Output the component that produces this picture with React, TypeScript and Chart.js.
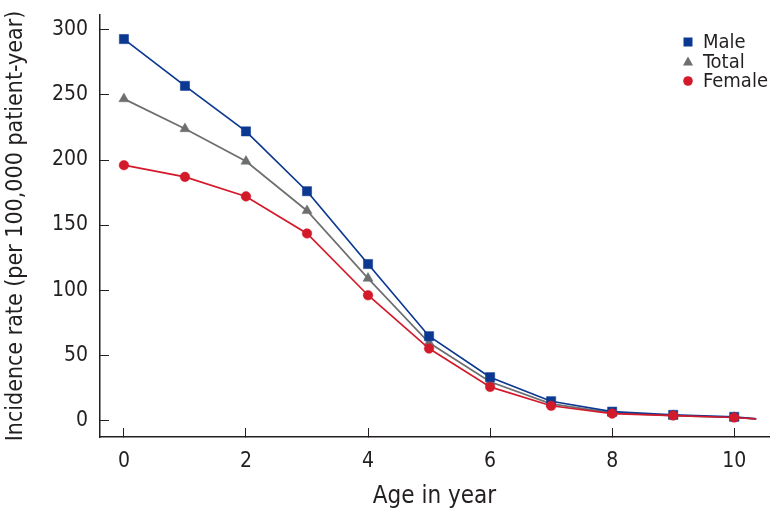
import React, { useEffect, useRef } from "react";
import { Chart, registerables } from "chart.js";

Chart.register(...registerables);

const ages = [0, 1, 2, 3, 4, 5, 6, 7, 8, 9, 10, 10.36];
const male = [293, 257, 222, 176, 120, 64.5, 33, 14.5, 6.5, 4, 2.5, 1];
const total = [247, 224, 199, 161, 109, 59.5, 29.5, 12.5, 5.5, 3.5, 2, 1];
const female = [196, 187, 172, 143.5, 96, 55, 25.5, 11, 5, 3.5, 2, 1];
const xTicks = [0, 2, 4, 6, 8, 10];
const yTicks = [0, 50, 100, 150, 200, 250, 300];

const FONT = "'Liberation Sans Narrow', 'DejaVu Sans Condensed', 'Arial Narrow', sans-serif";
const TEXT = "#231f20";
const BLUE = "#0b3891";
const GREY = "#6d6e70";
const RED = "#d31a2b";

const toPts = (arr: number[]) => arr.map((v, i) => ({ x: ages[i], y: v }));
const radii = (r: number) => ages.map((_, i) => (i < 11 ? r : 0));

const legendItems = [
  { label: "Male", color: BLUE, style: "rect" },
  { label: "Total", color: GREY, style: "triangle" },
  { label: "Female", color: RED, style: "circle" },
];

const legendPlugin = {
  id: "customLegend",
  afterDraw(chart: any) {
    const ctx = chart.ctx;
    ctx.save();
    ctx.font = `20px ${FONT}`;
    ctx.textBaseline = "middle";
    legendItems.forEach((it, i) => {
      const y = 42 + i * 19.5;
      const x = 688;
      ctx.fillStyle = it.color;
      ctx.beginPath();
      if (it.style === "rect") {
        ctx.rect(x - 4.5, y - 4.5, 9, 9);
      } else if (it.style === "triangle") {
        ctx.moveTo(x, y - 5);
        ctx.lineTo(x + 5, y + 4);
        ctx.lineTo(x - 5, y + 4);
        ctx.closePath();
      } else {
        ctx.arc(x, y, 4.8, 0, Math.PI * 2);
      }
      ctx.fill();
      ctx.fillStyle = TEXT;
      ctx.fillText(it.label, x + 15, y + 1);
    });
    ctx.restore();
  },
};

export default function App() {
  const ref = useRef<HTMLCanvasElement>(null);
  useEffect(() => {
    document.body.style.margin = "0";
    const ds = (label: string, data: number[], color: string, style: string, r: number) => ({
      label,
      data: toPts(data),
      borderColor: color,
      backgroundColor: color,
      borderWidth: 1.7,
      pointStyle: style,
      pointRadius: radii(r),
      pointHoverRadius: radii(r),
      pointBorderWidth: 0.5,
      tension: 0,
    });
    const chart = new Chart(ref.current!, {
      type: "line",
      data: {
        datasets: [
          ds("Female", female, RED, "circle", 4.8),
          ds("Male", male, BLUE, "rect", 6.5),
          ds("Total", total, GREY, "triangle", 5.8),
        ],
      },
      options: {
        animation: false,
        responsive: false,
        layout: { padding: { top: 15, right: 0, left: 0, bottom: 0 } },
        plugins: { legend: { display: false }, tooltip: { enabled: false } },
        scales: {
          x: {
            type: "linear",
            min: -0.392,
            max: 10.57,
            afterBuildTicks: (s: any) => {
              s.ticks = xTicks.map((v) => ({ value: v }));
            },
            afterFit: (s: any) => {
              s.height = 79;
              s.paddingLeft = 0;
              s.paddingRight = 0;
            },
            grid: { drawOnChartArea: false, drawTicks: true, tickLength: -9, color: TEXT, lineWidth: 1 },
            border: { color: TEXT, width: 1.5 },
            ticks: { color: TEXT, font: { family: FONT, size: 21 }, padding: 21, maxRotation: 0 },
            title: {
              display: true,
              text: "Age in year",
              color: TEXT,
              font: { family: FONT, size: 24 },
              padding: { top: 0, bottom: 5 },
            },
          },
          y: {
            min: -13,
            max: 311.5,
            afterBuildTicks: (s: any) => {
              s.ticks = yTicks.map((v) => ({ value: v }));
            },
            afterFit: (s: any) => {
              s.width = 100;
              s.paddingTop = 0;
              s.paddingBottom = 0;
            },
            grid: { drawOnChartArea: false, drawTicks: true, tickLength: -9, color: TEXT, lineWidth: 1 },
            border: { color: TEXT, width: 1.5 },
            ticks: { color: TEXT, font: { family: FONT, size: 21 }, padding: 21 },
            title: {
              display: true,
              text: "Incidence rate (per 100,000 patient-year)",
              color: TEXT,
              font: { family: FONT, size: 23 },
              padding: { top: 2, bottom: 0 },
            },
          },
        },
      },
      plugins: [legendPlugin],
    } as any);
    return () => chart.destroy();
  }, []);
  return (
    <div style={{ position: "absolute", left: 0, top: 0, width: 776, height: 516 }}>
      <canvas ref={ref} width={776} height={516} />
    </div>
  );
}
